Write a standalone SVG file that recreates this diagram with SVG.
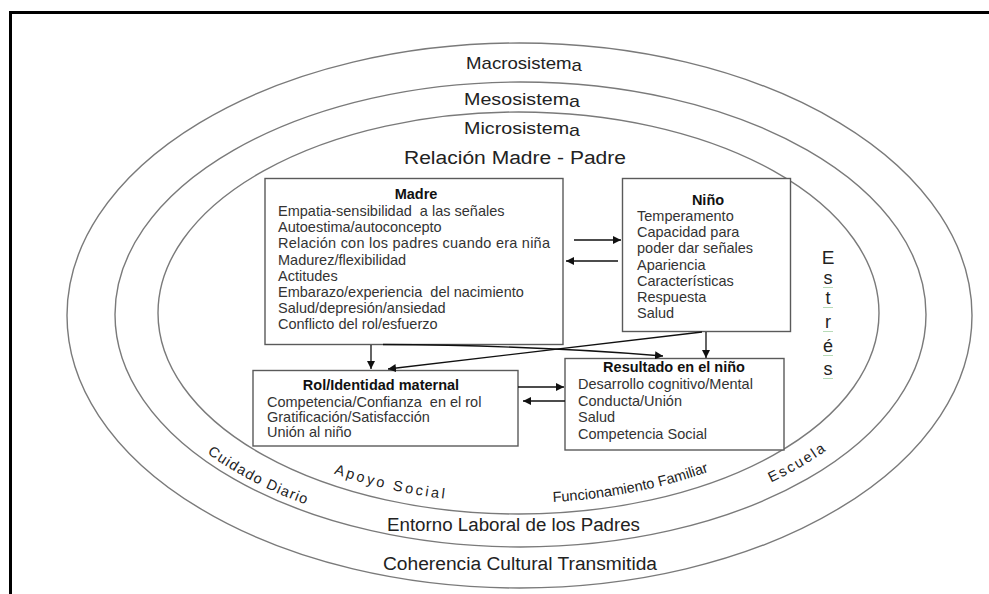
<svg xmlns="http://www.w3.org/2000/svg" width="989" height="594" viewBox="0 0 989 594">
<style>
  .ring { fill: none; stroke: #7a7a7a; stroke-width: 1.4; }
  .box { fill: #fff; stroke: #5a5a5a; stroke-width: 1.4; }
  .lbl { font-family: "Liberation Sans", Arial, sans-serif; fill: #222; }
  .ring-lbl { font-size: 17px; text-anchor: middle; }
  .big { font-size: 18px; text-anchor: middle; }
  .curve { font-size: 14.5px; }
  .body { font-size: 14.5px; fill: #333; }
  .title { font-size: 14.5px; font-weight: bold; text-anchor: middle; fill: #111; }
  .conn { fill: none; stroke: #111; stroke-width: 1.3; }
  .frame { fill: none; stroke: #000; stroke-width: 3; }
</style>
<defs>
  <marker id="ah" viewBox="0 0 10 10" refX="10" refY="5" markerWidth="8" markerHeight="8" markerUnits="userSpaceOnUse" orient="auto">
    <path d="M0,0 L10,5 L0,10 z" fill="#111"/>
  </marker>
  <path id="pCuidado" d="M207,453.3 A397,227 0 0 0 400,529.6"/>
  <path id="pApoyo" d="M334,473.5 A345,190 0 0 0 500,503"/>
  <path id="pFunc" d="M553,502 A345,190 0 0 0 800,423"/>
  <path id="pEscuela" d="M771,482.6 A392,222 0 0 0 900,365"/>
</defs>
<rect width="989" height="594" fill="#fff"/>
<path class="frame" d="M10.5,594 V12.5 H989"/>

<g id="macrosistema">
  <ellipse class="ring" cx="519.5" cy="315.5" rx="452.5" ry="272.5"/>
  <text class="lbl ring-lbl" x="524" y="69" textLength="116" lengthAdjust="spacingAndGlyphs">Macrosistem<tspan dy="2">a</tspan></text>
  <text class="lbl big" x="520" y="570" font-size="18" textLength="274" lengthAdjust="spacingAndGlyphs">Coherencia Cultural Transmitida</text>
</g>
<g id="mesosistema">
  <ellipse class="ring" cx="520.5" cy="314.5" rx="405.5" ry="232.5"/>
  <text class="lbl ring-lbl" x="522" y="105" textLength="116" lengthAdjust="spacingAndGlyphs">Mesosistem<tspan dy="2">a</tspan></text>
  <text class="lbl big" x="513.5" y="531" font-size="17" textLength="253" lengthAdjust="spacingAndGlyphs">Entorno Laboral de los Padres</text>
  <text class="lbl curve" letter-spacing="1.2"><textPath href="#pCuidado">Cuidado Diario</textPath></text>
  <text class="lbl curve" letter-spacing="2"><textPath href="#pEscuela">Escuela</textPath></text>
</g>
<g id="microsistema">
  <ellipse class="ring" cx="518.5" cy="313" rx="360.5" ry="201"/>
  <text class="lbl ring-lbl" x="522" y="134" textLength="116" lengthAdjust="spacingAndGlyphs">Microsistem<tspan dy="2">a</tspan></text>
  <text class="lbl big" x="515" y="164" textLength="222" lengthAdjust="spacingAndGlyphs">Relación Madre - Padre</text>
  <text class="lbl curve" letter-spacing="2.6"><textPath href="#pApoyo">Apoyo Social</textPath></text>
  <text class="lbl curve" font-size="14"><textPath href="#pFunc">Funcionamiento Familiar</textPath></text>
</g>
<g id="estres">
  <text class="lbl" font-size="18" text-anchor="middle" fill="#000"><tspan x="828" y="264" font-size="19">E</tspan><tspan x="828" y="284">s</tspan><tspan x="828" y="304">t</tspan><tspan x="828" y="328">r</tspan><tspan x="828" y="352">é</tspan><tspan x="828" y="375">s</tspan></text>
  <g stroke="#9c9" stroke-width="1" opacity="0.7">
    <path d="M823,287.5 h10 M823,307.5 h10 M823,331.5 h10 M823,355.5 h10 M823,378.5 h10"/>
  </g>
</g>

<g id="madre">
  <rect class="box" x="265" y="178.5" width="298" height="166"/>
  <text class="lbl title" x="416" y="199">Madre</text>
  <text class="lbl body" xml:space="preserve"><tspan x="278" y="216">Empatia-sensibilidad  a las señales</tspan><tspan x="278" y="232.2">Autoestima/autoconcepto</tspan><tspan x="278" y="248.4" textLength="272">Relación con los padres cuando era niña</tspan><tspan x="278" y="264.6">Madurez/flexibilidad</tspan><tspan x="278" y="280.8">Actitudes</tspan><tspan x="278" y="297">Embarazo/experiencia  del nacimiento</tspan><tspan x="278" y="313.2">Salud/depresión/ansiedad</tspan><tspan x="278" y="329.4">Conflicto del rol/esfuerzo</tspan></text>
</g>
<g id="nino">
  <rect class="box" x="622.5" y="178.5" width="168" height="153"/>
  <text class="lbl title" x="708" y="205">Niño</text>
  <text class="lbl body"><tspan x="637" y="221">Temperamento</tspan><tspan x="637" y="237.2">Capacidad para</tspan><tspan x="637" y="253.4">poder dar señales</tspan><tspan x="637" y="269.6">Apariencia</tspan><tspan x="637" y="285.8">Características</tspan><tspan x="637" y="302">Respuesta</tspan><tspan x="637" y="318.2">Salud</tspan></text>
</g>
<g id="rol">
  <rect class="box" x="253" y="370.5" width="265" height="75.5"/>
  <text class="lbl title" x="381" y="390" font-size="15">Rol/Identidad maternal</text>
  <text class="lbl body" xml:space="preserve"><tspan x="267" y="406.5">Competencia/Confianza  en el rol</tspan><tspan x="267" y="421.8">Gratificación/Satisfacción</tspan><tspan x="267" y="437">Unión al niño</tspan></text>
</g>
<g id="resultado">
  <rect class="box" x="565" y="358.5" width="219" height="91.5"/>
  <text class="lbl title" x="674" y="372">Resultado en el niño</text>
  <text class="lbl body"><tspan x="578" y="389">Desarrollo cognitivo/Mental</tspan><tspan x="578" y="405.6">Conducta/Unión</tspan><tspan x="578" y="422.2">Salud</tspan><tspan x="578" y="438.8">Competencia Social</tspan></text>
</g>

<g id="connectors">
  <line class="conn" x1="574" y1="240" x2="621" y2="240" marker-end="url(#ah)"/>
  <line class="conn" x1="618" y1="261" x2="566" y2="261" marker-end="url(#ah)"/>
  <line class="conn" x1="371" y1="345" x2="371" y2="369" marker-end="url(#ah)"/>
  <line class="conn" x1="706" y1="332" x2="706" y2="358" marker-end="url(#ah)"/>
  <line class="conn" x1="702" y1="332" x2="388" y2="369" marker-end="url(#ah)"/>
  <path class="conn" d="M383,344.5 Q540,345.5 663,356" marker-end="url(#ah)"/>
  <line class="conn" x1="518" y1="387" x2="564" y2="387" marker-end="url(#ah)"/>
  <line class="conn" x1="565" y1="401" x2="523" y2="401" marker-end="url(#ah)"/>
</g>
</svg>
